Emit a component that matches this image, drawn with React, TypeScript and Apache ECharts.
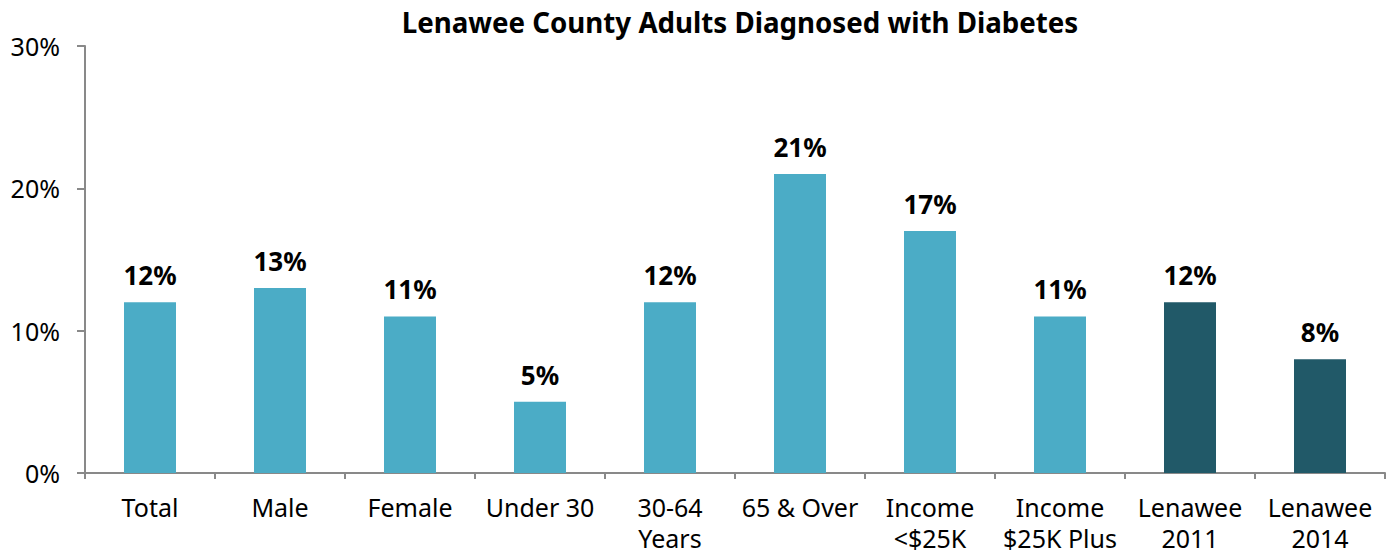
import React, { useEffect, useRef } from "react";
import * as echarts from "echarts";

const categories = ["Total", "Male", "Female", "Under 30", "30-64\nYears", "65 & Over", "Income\n<$25K", "Income\n$25K Plus", "Lenawee\n2011", "Lenawee\n2014"];
const values = [12, 13, 11, 5, 12, 21, 17, 11, 12, 8];
const barColors = ["#4BACC6", "#4BACC6", "#4BACC6", "#4BACC6", "#4BACC6", "#4BACC6", "#4BACC6", "#4BACC6", "#215968", "#215968"];
const yTicks = [0, 10, 20, 30];

const FONT = "'Noto Sans', 'Open Sans', sans-serif";

export default function App() {
  const ref = useRef<HTMLDivElement>(null);
  useEffect(() => {
    if (!ref.current) return;
    const chart = echarts.init(ref.current, null, { renderer: "svg" });
    chart.setOption({
      animation: false,
      title: {
        text: "Lenawee County Adults Diagnosed with Diabetes",
        left: 735,
        textAlign: "center",
        top: 3,
        textStyle: { fontFamily: FONT, fontSize: 27.7, fontWeight: "bold", color: "#000" },
      },
      grid: { left: 85, right: 10, top: 46, bottom: 81, containLabel: false },
      xAxis: {
        type: "category",
        data: categories,
        axisLine: { lineStyle: { color: "#898989", width: 2 } },
        axisTick: { show: true, length: 6, lineStyle: { color: "#898989", width: 2 } },
        axisLabel: { color: "#000", fontFamily: FONT, fontSize: 25, lineHeight: 31, margin: 18, interval: 0 },
      },
      yAxis: {
        type: "value",
        min: yTicks[0],
        max: yTicks[yTicks.length - 1],
        interval: 10,
        axisLine: { show: true, lineStyle: { color: "#898989", width: 2 } },
        axisTick: { show: true, length: 8, lineStyle: { color: "#898989", width: 2 } },
        splitLine: { show: false },
        axisLabel: { color: "#000", fontFamily: FONT, fontSize: 25, margin: 25, formatter: (v: number) => v + "%" },
      },
      series: [
        {
          type: "bar",
          data: values.map((v, i) => ({ value: v, itemStyle: { color: barColors[i] } })),
          barWidth: 52,
          label: {
            show: true,
            position: "top",
            distance: 14,
            formatter: (p: any) => p.value + "%",
            fontFamily: FONT,
            fontSize: 26,
            fontWeight: "bold",
            color: "#000",
          },
        },
      ],
    });
    return () => chart.dispose();
  }, []);
  return <div ref={ref} style={{ width: 1395, height: 554, position: "absolute", left: 0, top: 0 }} />;
}
